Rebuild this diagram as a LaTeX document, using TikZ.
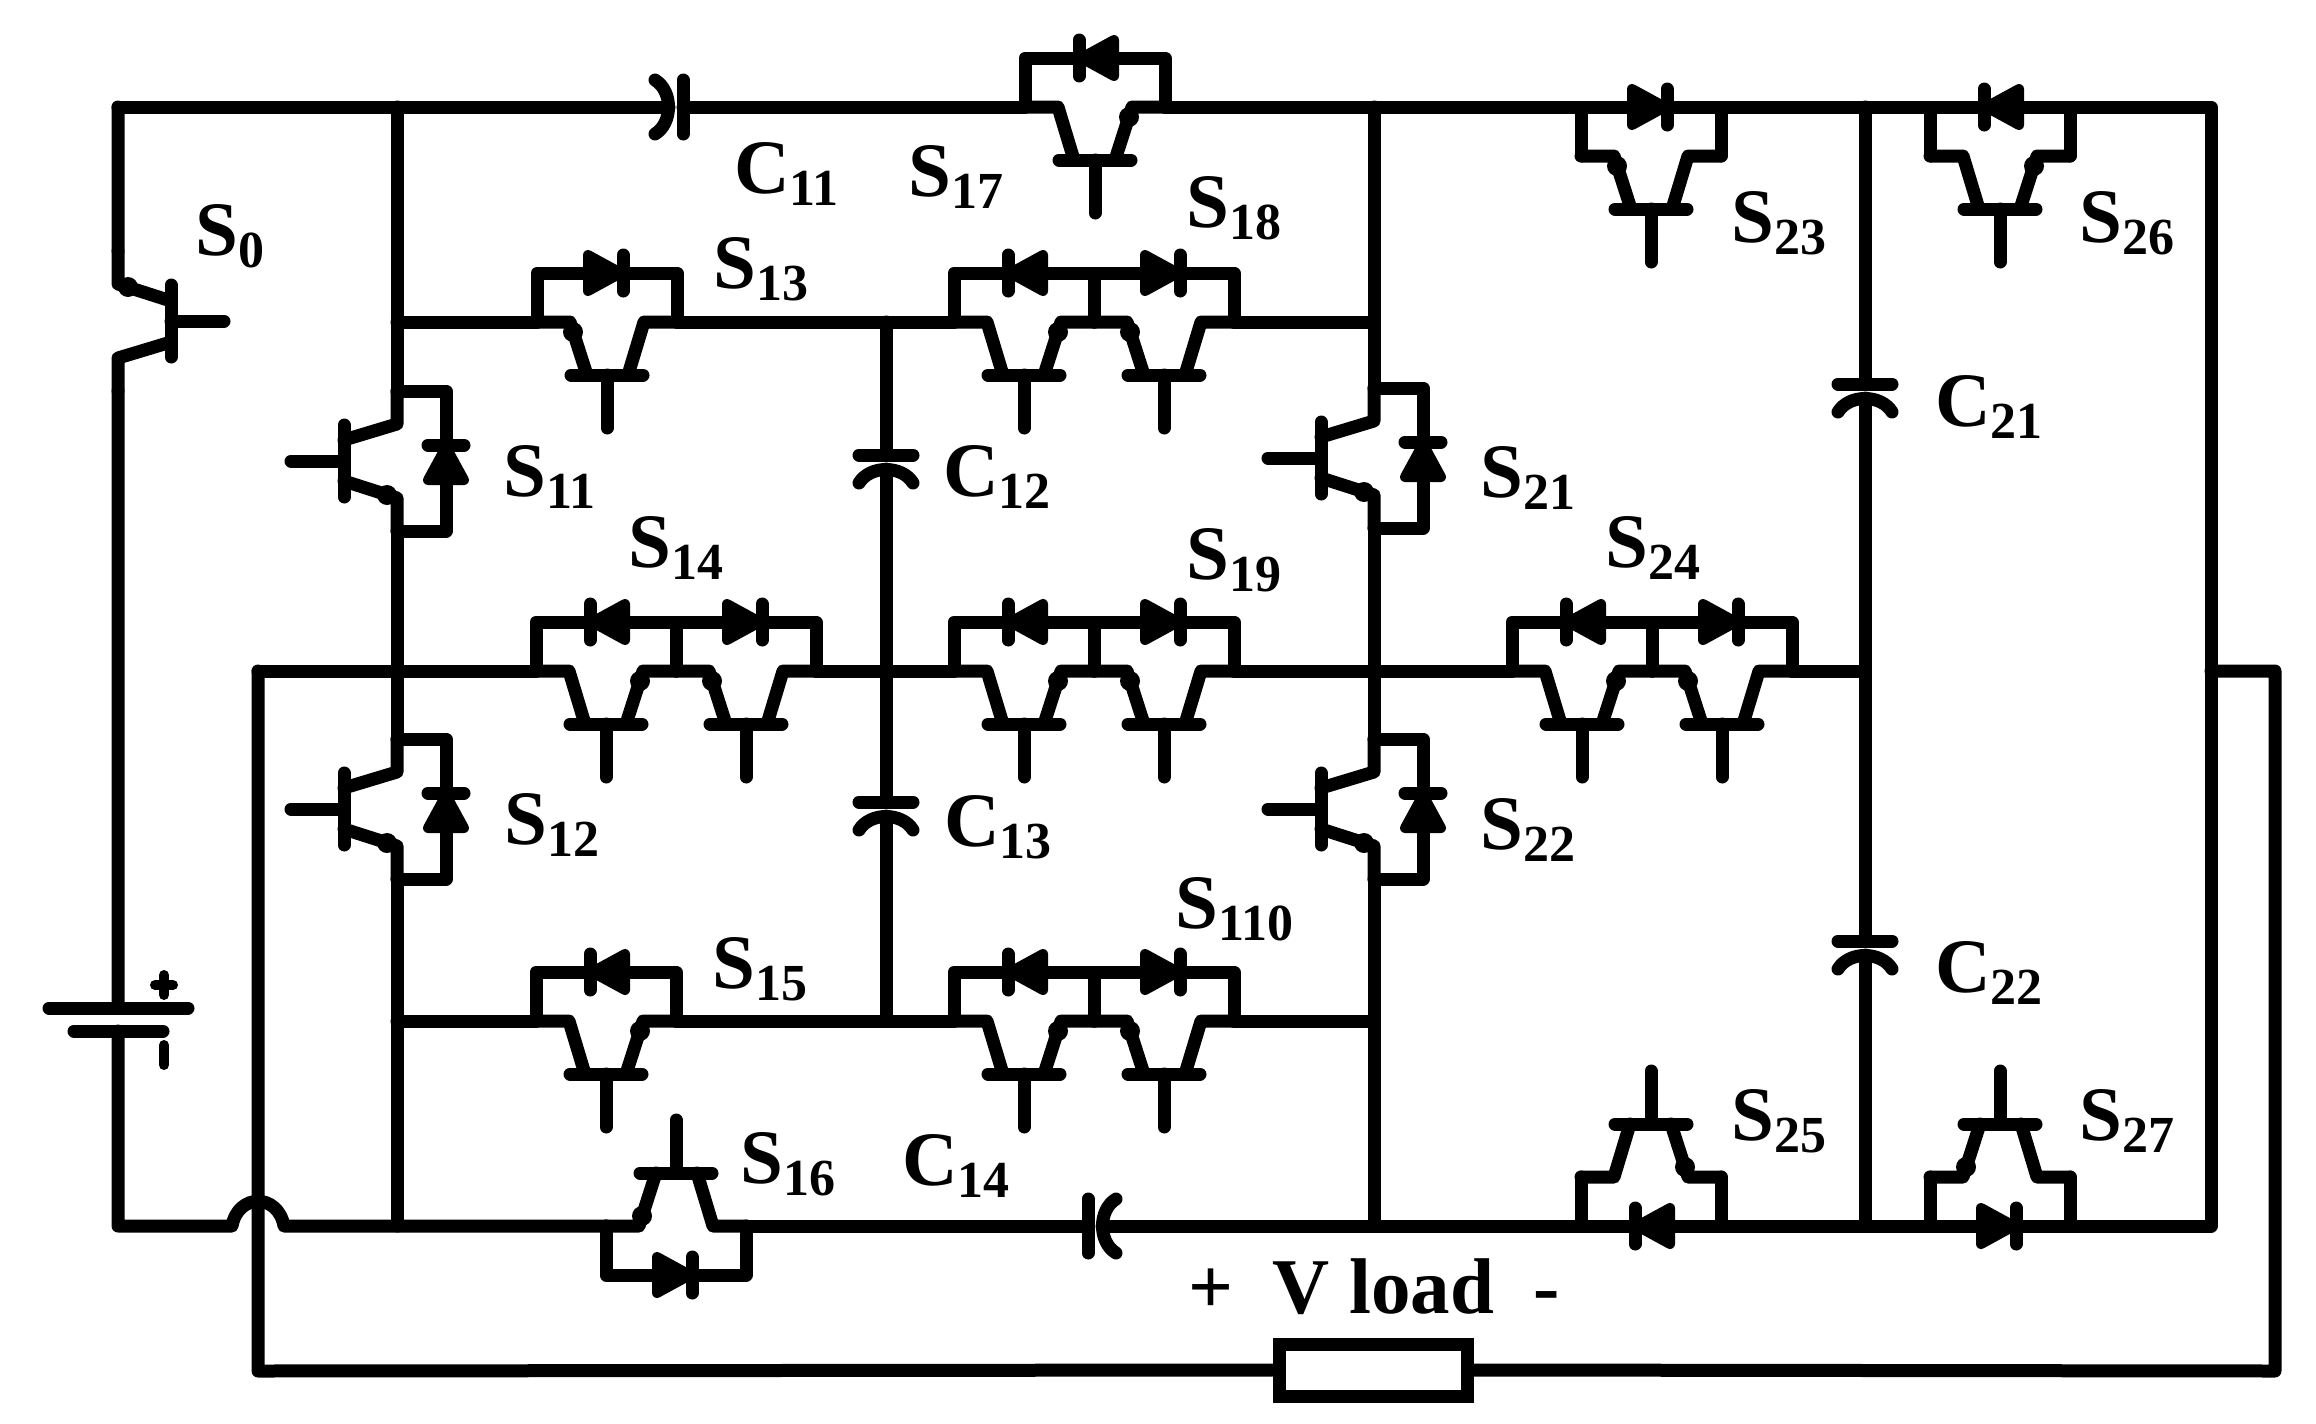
\documentclass[tikz,border=0pt]{standalone}
\usepackage{fontspec}
\setmainfont{Liberation Serif}
\usepackage{tikz}
\newcommand{\nsub}[1]{\raisebox{-12pt}{\fontsize{52}{52}\selectfont #1}}
\newcommand{\bjtbody}{
	\coordinate (-a) at (-70,0);
	\coordinate (-b) at (70,0);
	\draw[wire] (-a) -- (-37,0) -- (-20,53);
	\draw[wire] (-b) -- (37,0) -- (21,53);
	\draw[wire] (-36,53) -- (36,53);
	\draw[wire] (0,53) -- (0,106);
	\fill (-34,10) circle (10);
}
\begin{document}
\begin{tikzpicture}[x=1pt,y=-1pt,wire/.style={line width=13pt, line join=round, line cap=round},lab/.style={anchor=base west, inner sep=0pt, xshift=-4pt, yshift=2pt, font=\fontsize{77}{80}\selectfont\bfseries},
	bjt/.pic={\bjtbody},
	igbt/.pic={\bjtbody
		\draw[wire] (-a) -- (-70,-49) -- (70,-49) -- (-b);
		\draw[line width=10pt, line join=round, fill] (-19,-67) -- (14,-49) -- (-19,-31) -- cycle;
		\draw[wire] (16,-67) -- (16,-31);
	},
	capc/.pic={
		\coordinate (-a) at (0,0);
		\coordinate (-b) at (0,14);
		\draw[wire] (-27,0) -- (27,0);
		\draw[wire] (-27,28) .. controls (-16,10) and (16,10) .. (27,28);
	}]
	\useasboundingbox (0,0) rectangle (2316,1424);
	\coordinate (TL) at (118,107);
	\coordinate (TR) at (2211,107);
	\coordinate (BL) at (118,1226);
	\coordinate (BR) at (2211,1226);
	\coordinate (batp) at (118,1008);
	\coordinate (batn) at (118,1031);
	\coordinate (hopa) at (232,1226);
	\coordinate (hopb) at (284,1226);
	\coordinate (M0) at (258,671);
	\coordinate (M1) at (1865,671);
	\coordinate (M2) at (2211,671);
	\coordinate (M3) at (2275,671);
	\coordinate (M4) at (2275,1371);
	\coordinate (M5) at (258,1371);
	\pic[rotate=90,xscale=-1] (S0) at (118,321) {bjt};
	\pic[rotate=-90,xscale=-1] (S11) at (397,461) {igbt};
	\pic[rotate=-90,xscale=-1] (S12) at (397,809) {igbt};
	\pic (S13) at (607,322) {igbt};
	\pic[xscale=-1] (S14a) at (606,671) {igbt};
	\pic (S14b) at (746,671) {igbt};
	\pic[xscale=-1] (S15) at (606,1021) {igbt};
	\pic[yscale=-1] (S16) at (676,1226) {igbt};
	\pic[xscale=-1] (S17) at (1095,107) {igbt};
	\pic[xscale=-1] (S18a) at (1024,322) {igbt};
	\pic (S18b) at (1164,322) {igbt};
	\pic[xscale=-1] (S19a) at (1024,671) {igbt};
	\pic (S19b) at (1164,671) {igbt};
	\pic[xscale=-1] (S110a) at (1024,1021) {igbt};
	\pic (S110b) at (1164,1021) {igbt};
	\pic[rotate=-90,xscale=-1] (S21) at (1374,458) {igbt};
	\pic[rotate=-90,xscale=-1] (S22) at (1374,809) {igbt};
	\pic (S23) at (1651,156) {igbt};
	\pic[xscale=-1] (S24a) at (1582,671) {igbt};
	\pic (S24b) at (1722,671) {igbt};
	\pic[xscale=-1,yscale=-1] (S25) at (1651,1177) {igbt};
	\pic[xscale=-1] (S26) at (2000,156) {igbt};
	\pic[yscale=-1] (S27) at (2000,1177) {igbt};
	\pic[rotate=-90] (C11) at (683,107) {capc};
	\pic (C12) at (886,455) {capc};
	\pic (C13) at (886,802) {capc};
	\pic[rotate=90] (C14) at (1088,1226) {capc};
	\pic (C21) at (1865,384) {capc};
	\pic (C22) at (1865,941) {capc};
	\node[draw, line width=13pt, minimum width=188pt, minimum height=52pt] (R) at (1373,1370) {};
	\draw[wire] (TL) -- (S0-a) (S0-b) -- (batp) (batn) -- (BL) -- (hopa) .. controls (238,1193) and (278,1193) .. (hopb) -- (S16-a);
	\draw[wire] (S16-b) -- (C14-a) (C14-b) -- (BR) -- (TR) -- (S17-a) (S17-b) -- (C11-a) (C11-b) -- (TL);
	\draw[wire] (S11-a) -- (S12-b) (S11-b) -- (S11-b |- TL) (S12-a) -- (S12-a |- BL);
	\draw[wire] (S21-a) -- (S22-b) (S21-b) -- (S21-b |- TL) (S22-a) -- (S22-a |- BL);
	\draw[wire] (S13-a -| S11-a) -- (S13-a) (S13-b) -- (S18a-b) (S18b-b) -- (S18b-b -| S21-a);
	\draw[wire] (M0) -- (S14a-b) (S14b-b) -- (S19a-b) (S19b-b) -- (S24a-b) (S24b-b) -- (M1);
	\draw[wire] (S15-b -| S11-a) -- (S15-b) (S15-a) -- (S110a-b) (S110b-b) -- (S110b-b -| S21-a);
	\draw[wire] (C12-a |- S13-a) -- (C12-a) (C12-b) -- (C13-a) (C13-b) -- (C13-b |- S15-a);
	\draw[wire] (C21-a |- TL) -- (C21-a) (C21-b) -- (C22-a) (C22-b) -- (C22-b |- BL);
	\draw[wire] (M2) -- (M3) -- (M4) -- (R.east) (R.west) -- (M5) -- (M0);
	\draw[wire, line width=13pt] (49,1008) -- (188,1008);
	\draw[wire, line width=13pt] (74,1031) -- (163,1031);
	\draw[wire, line width=10pt] (164,975) -- (164,995) (155,985) -- (173,985);
	\draw[wire, line width=10pt] (164,1045) -- (164,1065);
	\node[lab] (lS0) at (199,257) {S\nsub{0}};
	\node[lab] (lS11) at (507,498) {S\nsub{11}};
	\node[lab] (lS12) at (508,846) {S\nsub{12}};
	\node[lab] (lS13) at (717,290) {S\nsub{13}};
	\node[lab] (lS14) at (632,569) {S\nsub{14}};
	\node[lab] (lS15) at (716,990) {S\nsub{15}};
	\node[lab] (lS16) at (744,1185) {S\nsub{16}};
	\node[lab] (lS17) at (912,198) {S\nsub{17}};
	\node[lab] (lS18) at (1190,229) {S\nsub{18}};
	\node[lab] (lS19) at (1190,581) {S\nsub{19}};
	\node[lab] (lS110) at (1179,930) {S\nsub{110}};
	\node[lab] (lS21) at (1484,499) {S\nsub{21}};
	\node[lab] (lS22) at (1484,851) {S\nsub{22}};
	\node[lab] (lS23) at (1735,244) {S\nsub{23}};
	\node[lab] (lS24) at (1609,569) {S\nsub{24}};
	\node[lab] (lS25) at (1735,1142) {S\nsub{25}};
	\node[lab] (lS26) at (2083,244) {S\nsub{26}};
	\node[lab] (lS27) at (2083,1142) {S\nsub{27}};
	\node[lab] (lC11) at (738,195) {C\nsub{11}};
	\node[lab] (lC12) at (947,498) {C\nsub{12}};
	\node[lab] (lC13) at (948,848) {C\nsub{13}};
	\node[lab] (lC14) at (906,1187) {C\nsub{14}};
	\node[lab] (lC21) at (1939,428) {C\nsub{21}};
	\node[lab] (lC22) at (1939,994) {C\nsub{22}};
	\node[lab, font=\fontsize{79}{80}\selectfont\bfseries] (lV) at (1192,1315) {+\ \ V load\ \ -};
\end{tikzpicture}
\end{document}
